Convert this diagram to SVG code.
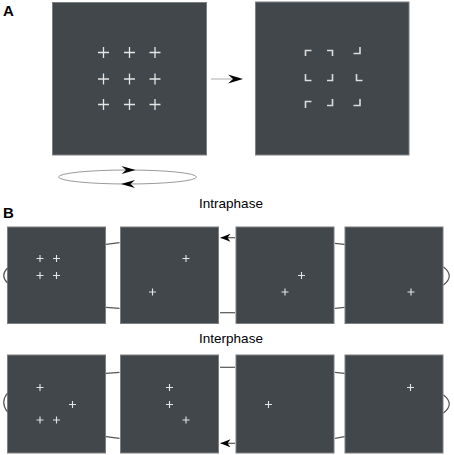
<svg xmlns="http://www.w3.org/2000/svg" width="454" height="455" viewBox="0 0 454 455">
<defs>
<style>
.panel{fill:#41474a;stroke:#7a7f82;stroke-width:1}
.cross{stroke:#e6e6e6;stroke-width:1.3;fill:none}
.crossS{stroke:#e6e6e6;stroke-width:1.1;fill:none}
.corner{stroke:#dcdcdc;stroke-width:1.6;fill:none}
.conn{stroke:#555;stroke-width:1.2;fill:none}
.head{fill:#000;stroke:none}
.lbl{font-family:"Liberation Sans",Arial,sans-serif;font-weight:bold;font-size:15px;fill:#000}
.ttl{font-family:"Liberation Sans",Arial,sans-serif;font-size:13.5px;fill:#000;text-anchor:middle}
</style>
<path id="c" d="M-5.5,0H5.5M0,-5.5V5.5"/>
<path id="s" d="M-3.5,0H3.5M0,-3.5V3.5"/>
<marker id="ah" viewBox="0 0 10 8" refX="10" refY="4" markerWidth="10" markerHeight="8" markerUnits="userSpaceOnUse" orient="auto">
<path d="M0,0L10,4L0,8L3,4Z" fill="#000"/>
</marker>
</defs>
<text class="lbl" x="3" y="16">A</text>
<text class="lbl" x="3" y="218">B</text>
<text class="ttl" x="231" y="208">Intraphase</text>
<text class="ttl" x="231" y="343">Interphase</text>

<g id="a-left">
<rect class="panel" x="52.5" y="2.5" width="154" height="152.5"/>
<g class="cross">
<use href="#c" x="103.5" y="52.5"/><use href="#c" x="129.5" y="52.5"/><use href="#c" x="155" y="52.5"/>
<use href="#c" x="103.5" y="79"/><use href="#c" x="129.5" y="79"/><use href="#c" x="155" y="79"/>
<use href="#c" x="103.5" y="104.5"/><use href="#c" x="129.5" y="104.5"/><use href="#c" x="155" y="104.5"/>
</g>
</g>
<g id="a-right">
<rect class="panel" x="255.5" y="2" width="153.5" height="153"/>
<g class="corner">
<path d="M305.5,56V50.5H311.5"/>
<path d="M327,50.5H332.5V56"/>
<path d="M360,47V53.5H353.5"/>
<path d="M305.5,74V80.5H311.5"/>
<path d="M332.5,74V80.5H327"/>
<path d="M356.5,74V80.5H362.5"/>
<path d="M305.5,108V101.5H311.5"/>
<path d="M332.5,99V105.5H327"/>
<path d="M360,99V105.5H353.5"/>
</g>
</g>

<g id="b1"><rect class="panel" x="7.5" y="227" width="98" height="96.5"/>
<g class="crossS"><use href="#s" x="40" y="258.5"/><use href="#s" x="56.5" y="258.5"/><use href="#s" x="40" y="275.5"/><use href="#s" x="56.5" y="275.5"/></g></g>
<g id="b2"><rect class="panel" x="120.5" y="227" width="98" height="96.5"/>
<g class="crossS"><use href="#s" x="186" y="258.5"/><use href="#s" x="152.5" y="292"/></g></g>
<g id="b3"><rect class="panel" x="236" y="227" width="98" height="96.5"/>
<g class="crossS"><use href="#s" x="301.5" y="275.5"/><use href="#s" x="285" y="292"/></g></g>
<g id="b4"><rect class="panel" x="345" y="227" width="98" height="96.5"/>
<g class="crossS"><use href="#s" x="411" y="292"/></g></g>

<g id="b5"><rect class="panel" x="7.5" y="355" width="98" height="98"/>
<g class="crossS"><use href="#s" x="40" y="387.5"/><use href="#s" x="72.5" y="404.5"/><use href="#s" x="40" y="420"/><use href="#s" x="56.5" y="420"/></g></g>
<g id="b6"><rect class="panel" x="120.5" y="355" width="98" height="98"/>
<g class="crossS"><use href="#s" x="169.5" y="387.5"/><use href="#s" x="169.5" y="404.5"/><use href="#s" x="186" y="420"/></g></g>
<g id="b7"><rect class="panel" x="236" y="355" width="98" height="98"/>
<g class="crossS"><use href="#s" x="268.5" y="404.5"/></g></g>
<g id="b8"><rect class="panel" x="345" y="355" width="98" height="98"/>
<g class="crossS"><use href="#s" x="410.5" y="387.5"/></g></g>

<g id="connectors">
<line x1="211" y1="79" x2="232" y2="79" stroke="#c8c8c8" stroke-width="1.5"/>
<path class="head" d="M243,79L228,74.5L233,79L228,83.5Z"/>
<ellipse cx="127.5" cy="177" rx="69" ry="7" fill="none" stroke="#9a9a9a" stroke-width="1"/>
<path class="head" d="M135.5,170L121.5,166L126,170L121.5,174Z"/>
<path class="head" d="M121,184L135,180L130.5,184L135,188Z"/>

<path class="conn" d="M106,244.3L119.5,242.7"/>
<path class="conn" d="M106,307.3L119.5,308.3"/>
<path class="conn" d="M235,237.7H220.5" stroke="#888" marker-end="url(#ah)"/>
<path class="conn" d="M220,312.7H235"/>
<path class="conn" d="M335,243.3L344.5,244.3"/>
<path class="conn" d="M335,308.3L344.5,307.3"/>
<path class="conn" d="M7.5,268Q0,275.5 7.5,283"/>
<path class="conn" d="M443.5,267Q455,276 443.5,285"/>

<path class="conn" d="M106,373.3L119.5,372.3"/>
<path class="conn" d="M106,436.7L119.5,438.3"/>
<path class="conn" d="M220,367.3H235"/>
<path class="conn" d="M235,443.3H220.5" stroke="#888" marker-end="url(#ah)"/>
<path class="conn" d="M335,372.3L344.5,373.3"/>
<path class="conn" d="M335,438.3L344.5,436.7"/>
<path class="conn" d="M7.5,393Q0,402.5 7.5,412"/>
<path class="conn" d="M443.5,395Q455,404 443.5,413"/>
</g>
</svg>
